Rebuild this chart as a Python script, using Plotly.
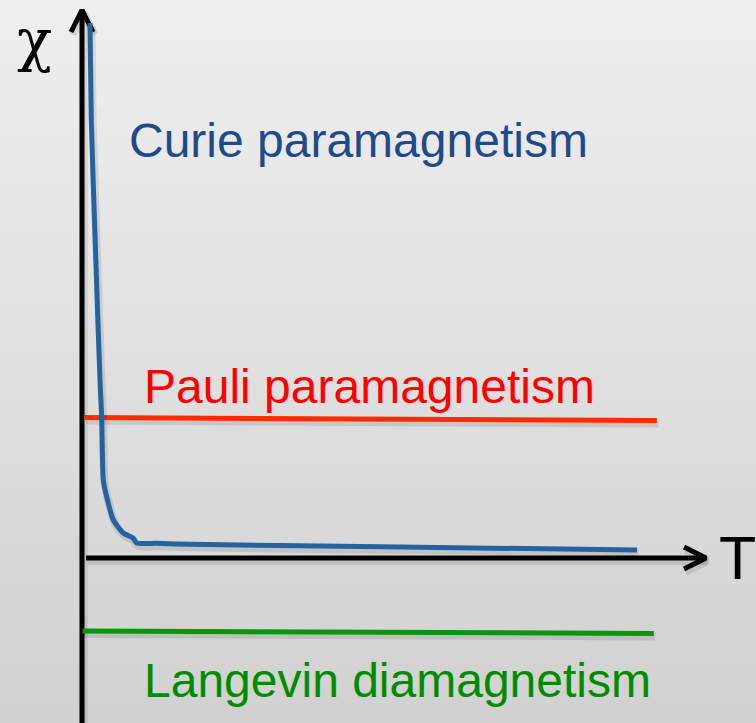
import plotly.graph_objects as go

# Susceptibility chi versus temperature T (arbitrary units)
curie_T = [0.133, 0.155, 0.225, 0.30, 0.328, 0.355, 0.412, 0.522, 0.688, 0.85, 0.912, 1.245, 1.80, 5.30, 9.25]
curie_chi = [5.35, 4.38, 3.08, 1.78, 1.41, 0.78, 0.61, 0.38, 0.25, 0.20, 0.15, 0.147, 0.137, 0.11, 0.08]

pauli_T = [0.05, 9.58]
pauli_chi = [1.405, 1.375]

langevin_T = [0.01, 9.53]
langevin_chi = [-0.73, -0.755]

labels = ["Curie paramagnetism", "Pauli paramagnetism", "Langevin diamagnetism"]
label_colors = ["#1f4b8b", "#ff0000", "#008c00"]
label_pos = [(0.75, 4.18), (1.0, 1.72), (1.0, -1.22)]

W, H = 756, 723
x_range = [-82 / 60, (W - 82) / 60]
y_range = [(558 - H) / 100, 5.58]
px_x = (x_range[1] - x_range[0]) / W   # data units per pixel
px_y = (y_range[1] - y_range[0]) / H

fig = go.Figure()

# gradient backdrop
n = 80
shapes = []
for i in range(n):
    f = i / (n - 1)
    g = round(239 - (239 - 209) * f)
    shapes.append(dict(type="rect", xref="paper", yref="paper", x0=0, x1=1,
                       y0=1 - (i + 1) / n, y1=1 - i / n + 0.001,
                       fillcolor=f"rgb({g},{g},{g})", line_width=0, layer="below"))


def add_line(xs, ys, color, width=5, shadow=True, shape="linear"):
    if shadow:
        fig.add_trace(go.Scatter(x=[v + 1.5 * px_x for v in xs], y=[v - 3 * px_y for v in ys],
                                 mode="lines", line=dict(color="rgba(0,0,0,0.10)", width=width + 3, shape=shape),
                                 hoverinfo="skip", showlegend=False))
    fig.add_trace(go.Scatter(x=xs, y=ys, mode="lines",
                             line=dict(color=color, width=width, shape=shape, smoothing=0.6),
                             hoverinfo="skip", showlegend=False))


# axes with open arrowheads
y_tip = 5.48
x_tip = 10.4
ah_len, ah_half = 22, 11
add_line([0, 0], [y_range[0], y_tip], "black")
add_line([-ah_half * px_x, 0, ah_half * px_x], [y_tip - ah_len * px_y, y_tip, y_tip - ah_len * px_y], "black")
add_line([4 * px_x, x_tip], [0, 0], "black")
add_line([x_tip - ah_len * px_x, x_tip, x_tip - ah_len * px_x], [ah_half * px_y, 0, -ah_half * px_y], "black")

add_line(pauli_T, pauli_chi, "#ff2a00")
add_line(langevin_T, langevin_chi, "#0a960a")
add_line(curie_T, curie_chi, "#2462a0", shape="spline")

annotations = []
for text, color, (x, y) in zip(labels, label_colors, label_pos):
    annotations.append(dict(x=x, y=y, text=text, showarrow=False, xanchor="left", yanchor="middle",
                            font=dict(family="Liberation Sans, Arial", size=48, color=color)))
annotations.append(dict(x=x_tip + 31 * px_x, y=0, text="T", showarrow=False, xanchor="center", yanchor="middle",
                        font=dict(family="Liberation Sans, Arial", size=61, color="black")))
annotations.append(dict(x=-48 * px_x, y=5.18, text="χ", showarrow=False, xanchor="center", yanchor="middle",
                        font=dict(family="DejaVu Serif", size=58, color="black")))

fig.update_layout(
    width=W, height=H, margin=dict(l=0, r=0, t=0, b=0),
    paper_bgcolor="#e2e2e2", plot_bgcolor="rgba(0,0,0,0)",
    xaxis=dict(range=x_range, visible=False, fixedrange=True),
    yaxis=dict(range=y_range, visible=False, fixedrange=True),
    shapes=shapes, annotations=annotations, showlegend=False,
)

fig.write_html("out.html", config={"displayModeBar": False})
